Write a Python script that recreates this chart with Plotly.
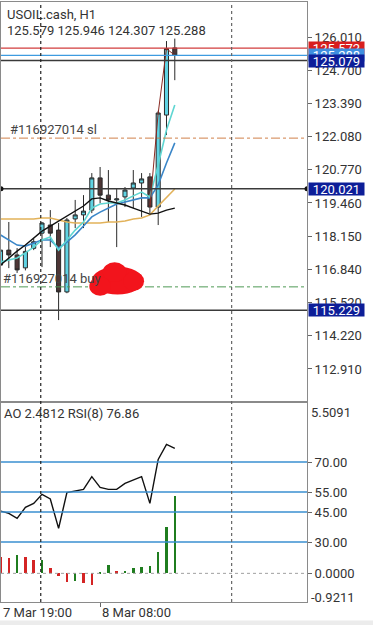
import plotly.graph_objects as go

# ---------------- data ----------------
idx = list(range(22))  # H1 candles, 0 = 7 Mar 19:00, 12 = 8 Mar 08:00
opens  = [117.01, 117.60, 117.41, 116.90, 117.67, 118.27, 118.59, 118.39, 115.95, 118.83, 118.99,
          119.18, 120.45, 119.77, 119.58, 119.70, 120.05, 120.25, 120.49, 119.30, 122.93, 125.579]
highs  = [117.75, 118.71, 117.68, 117.80, 118.07, 118.71, 119.18, 118.67, 118.87, 119.58, 119.77,
          120.64, 120.88, 120.76, 120.05, 120.09, 120.76, 120.64, 120.64, 123.10, 125.85, 125.946]
lows   = [116.90, 116.89, 116.70, 116.80, 117.60, 116.93, 117.72, 114.84, 115.90, 118.47, 118.47,
          119.06, 119.45, 118.71, 117.72, 119.30, 119.26, 118.91, 119.06, 118.59, 122.14, 124.307]
closes = [117.60, 117.41, 116.82, 117.55, 117.93, 118.67, 118.27, 115.95, 118.79, 118.99, 119.14,
          120.45, 119.77, 119.58, 119.62, 119.97, 120.25, 120.41, 119.30, 123.01, 125.55, 125.288]

ma_black = [117.01, 117.29, 117.56, 117.80, 118.08, 118.35, 118.55, 118.75, 118.95, 119.14, 119.34,
            119.62, 119.66, 119.54, 119.46, 119.38, 119.26, 119.14, 119.02, 119.06, 119.18, 119.26]
ma_cyan  = [117.13, 117.21, 117.29, 117.49, 117.72, 118.00, 118.12, 117.60, 118.00, 118.39, 118.71,
            119.26, 119.42, 119.46, 119.46, 119.58, 119.74, 119.89, 119.70, 120.96, 122.34, 123.33]
ma_blue  = [118.20, 118.00, 117.80, 117.76, 117.88, 118.00, 118.00, 117.68, 117.92, 118.20, 118.55,
            118.91, 119.10, 119.26, 119.42, 119.50, 119.58, 119.66, 119.66, 120.17, 121.04, 121.83]
ma_gold  = [118.83, 118.83, 118.83, 118.83, 118.83, 118.87, 118.87, 118.79, 118.71, 118.67, 118.67,
            118.67, 118.67, 118.71, 118.71, 118.75, 118.83, 118.87, 118.99, 119.34, 119.66, 120.01]
fast_red = [None] * 18 + [119.30, 123.01, 125.55, 125.288]

ao  = [0.51, 0.49, 0.59, 0.51, 0.43, 0.44, 0.17, -0.08, -0.29, -0.24, -0.32,
       -0.37, 0.05, 0.28, 0.06, 0.08, 0.16, 0.19, 0.25, 0.70, 1.48, 2.4812]
rsi = [45.5, 44.3, 41.8, 47.3, 49.3, 53.8, 51.5, 36.8, 54.7, 55.5, 56.3,
       62.7, 57.3, 56.3, 56.3, 59.3, 61.0, 62.7, 49.3, 71.3, 78.8, 76.86]

price_ticks = [126.010, 124.700, 123.390, 122.080, 120.770, 119.460, 118.150, 116.840, 115.520, 114.220, 112.910]
price_range = [111.607, 127.391]
ao_range = [-0.9211, 5.5091]
rsi_levels = [70, 55, 45, 30]

ask_price, bid_price, line_price = 125.572, 125.288, 125.079
level_mid, level_low = 120.021, 115.229
sl_price, buy_price = 122.02, 116.15
separators = [4.85, 27.85]
time_labels = [(0, "7 Mar 19:00"), (12, "8 Mar 08:00")]
x_range = [0.06, 36.93]

header1 = "USOIL.cash, H1"
header2 = "125.579 125.946 124.307 125.288"
ind_label = "AO 2.4812 RSI(8) 76.86"

# ---------------- figure ----------------
fig = go.Figure()

fig.add_trace(go.Candlestick(
    x=idx, open=opens, high=highs, low=lows, close=closes,
    increasing=dict(fillcolor="#5fd3e3", line=dict(color="#2a2a2a", width=1)),
    decreasing=dict(fillcolor="#4e3636", line=dict(color="#2a2a2a", width=1)),
    whiskerwidth=0, xaxis="x", yaxis="y", hoverinfo="skip"))

for vals, col, w in [(ma_gold, "#e2b25a", 1.6), (ma_blue, "#3a86c8", 1.6),
                     (ma_cyan, "#5fd6d2", 1.6), (ma_black, "#111111", 1.4),
                     (fast_red, "#8a2a22", 1.0)]:
    fig.add_trace(go.Scatter(x=idx, y=vals, mode="lines", line=dict(color=col, width=w),
                             xaxis="x", yaxis="y", hoverinfo="skip"))

ao_colors = []
for k, v in enumerate(ao):
    prev = ao[k - 1] if k > 0 else float("inf")
    ao_colors.append("#1f7d1f" if v > prev else "#d42424")
fig.add_trace(go.Bar(x=idx, y=ao, marker=dict(color=ao_colors, line=dict(width=0)),
                     width=0.3, xaxis="x2", yaxis="y2", hoverinfo="skip"))
fig.add_trace(go.Scatter(x=idx, y=rsi, mode="lines", line=dict(color="#111111", width=1.4),
                         xaxis="x2", yaxis="y3", hoverinfo="skip"))

shapes = []
def hline(y, color, width, dash="solid", yref="y"):
    shapes.append(dict(type="line", xref="paper", x0=0, x1=1, yref=yref, y0=y, y1=y,
                       line=dict(color=color, width=width, dash=dash)))

hline(ask_price, "#d23c3c", 1.2)
hline(bid_price, "#3d9be0", 1.2)
hline(line_price, "#3a3a3a", 1.5)
hline(sl_price, "#d0804a", 1.0, "dashdot")
hline(buy_price, "#4f9a55", 1.0, "dashdot")
hline(level_mid, "#3a3a3a", 1.5)
hline(level_low, "#3a3a3a", 1.5)
for lv in rsi_levels:
    hline(lv, "#3a8fd0", 1.6, yref="y3")
hline(0, "#a0a0a0", 1.0, "dot", yref="y2")

for k, sx in enumerate(separators):
    shapes.append(dict(type="line", xref="x", x0=sx, x1=sx, yref="paper", y0=0, y1=1,
                       line=dict(color="#222" if k == 0 else "#666", width=1.2, dash="3px,3px")))

# end dots of the 120.021 line
for xa in x_range:
    shapes.append(dict(type="circle", xref="x", yref="y", xsizemode="pixel", ysizemode="pixel",
                       xanchor=xa, yanchor=level_mid, x0=-2.5, x1=2.5, y0=-2.5, y1=2.5,
                       fillcolor="#111", line=dict(width=0)))

# red censor blob
for (bx0, bx1, by0, by1) in [(11.0, 17.2, 115.85, 116.95), (12.3, 15.2, 116.35, 117.12),
                             (10.7, 13.3, 115.80, 116.55), (14.8, 17.3, 116.0, 116.75)]:
    shapes.append(dict(type="circle", xref="x", yref="y", x0=bx0, x1=bx1, y0=by0, y1=by1,
                       fillcolor="#f2141c", line=dict(width=0), layer="above"))

# bottom grey strip
shapes.append(dict(type="rect", xref="paper", yref="paper", x0=-0.01, x1=1.25, y0=-0.04, y1=-0.031,
                   fillcolor="#ececec", line=dict(width=0)))

ann = []
def txt(x, y, t, xref="paper", yref="paper", **kw):
    d = dict(x=x, y=y, xref=xref, yref=yref, text=t, showarrow=False, xanchor="left",
             yanchor="middle", font=dict(family="Roboto", size=13, color="#333"))
    d.update(kw)
    ann.append(d)

txt(0.013, 0.979, header1)
txt(0.013, 0.952, header2)
txt(0.022, 0.787, "#116927014 sl", font=dict(family="Roboto", size=13, color="#444"))
txt(0.001, 0.539, "#116927014 buy", font=dict(family="Roboto", size=13, color="#444"))
txt(0.004, 0.315, ind_label)
# time labels, left-aligned at their candle (converted to paper coords so the edge one is not dropped)
for tx, tl in time_labels:
    px = (tx - x_range[0]) / (x_range[1] - x_range[0])
    txt(px, -0.017, tl)

def pricebox(p, t, bg):
    ann.append(dict(x=1, y=p, xref="paper", yref="y", text=t, showarrow=False, xanchor="left",
                    yanchor="middle", xshift=1, bgcolor=bg, borderpad=0, width=55, height=12,
                    font=dict(family="Roboto", size=13, color="white")))

pricebox(ask_price, f"{ask_price:.3f}", "#d81e1e")
pricebox(bid_price, f"{bid_price:.3f}", "#3f8fe0")
pricebox(line_price, f"{line_price:.3f}", "#0d1e98")
pricebox(level_mid, f"{level_mid:.3f}", "#0d1e98")
pricebox(level_low, f"{level_low:.3f}", "#0d1e98")

ann.append(dict(x=1, y=ao_range[1], xref="paper", yref="y2", text=f"{ao_range[1]:.4f}",
                showarrow=False, xanchor="left", yanchor="top", xshift=2, yshift=-1,
                font=dict(family="Roboto", size=13, color="#333")))
ann.append(dict(x=1, y=ao_range[0], xref="paper", yref="y2", text=f"{ao_range[0]:.4f}",
                showarrow=False, xanchor="left", yanchor="middle", xshift=2, yshift=5,
                font=dict(family="Roboto", size=13, color="#333")))

axis_common = dict(showgrid=False, zeroline=False, showline=True, linecolor="#8a8a8a",
                   linewidth=1, mirror=True)

fig.update_layout(
    width=373, height=625, margin=dict(l=1, r=66, t=2, b=23),
    paper_bgcolor="white", plot_bgcolor="white", showlegend=False,
    font=dict(family="Roboto", size=13, color="#333"),
    xaxis=dict(domain=[0, 1], anchor="y", range=x_range, showticklabels=False,
               rangeslider=dict(visible=False), ticks="", **axis_common),
    yaxis=dict(domain=[1/3, 1], anchor="x", side="right", range=price_range,
               tickvals=price_ticks, ticktext=[f"{v:.3f}" for v in price_ticks],
               ticks="outside", ticklen=4, tickcolor="#666", **axis_common),
    xaxis2=dict(domain=[0, 1], anchor="y2", matches="x", range=x_range, showticklabels=False,
                ticks="outside", tickvals=[12], ticklen=4, tickcolor="#666", **axis_common),
    yaxis2=dict(domain=[0, 1/3], anchor="x2", side="right", range=ao_range,
                tickvals=[0], ticktext=["0.0000"], ticks="outside", ticklen=4, tickcolor="#666",
                **axis_common),
    yaxis3=dict(overlaying="y2", anchor="x2", side="right", range=[0, 100],
                tickvals=rsi_levels, ticktext=[f"{v:.2f}" for v in rsi_levels],
                ticks="outside", ticklen=4, tickcolor="#666", showgrid=False, zeroline=False,
                showline=False),
    shapes=shapes, annotations=ann, bargap=0,
)

fig.write_html("out.html")
